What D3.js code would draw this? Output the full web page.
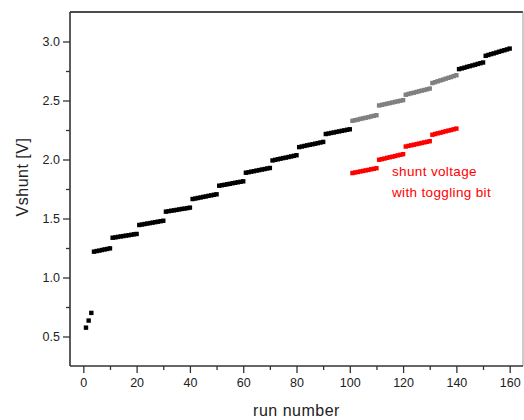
<!DOCTYPE html>
<html>
<head>
<meta charset="utf-8">
<script src="https://cdn.jsdelivr.net/npm/d3@7"></script>
<style>
  html, body { margin: 0; padding: 0; background: #fff; }
  svg { display: block; }
  text { font-family: "Liberation Sans", Arial, sans-serif; }
</style>
</head>
<body>
<svg id="chart" width="524" height="420"></svg>
<script>
// ---- data ----
const blackStarts = [1, 4, 11, 21, 31, 41, 51, 61, 71, 81, 91, 141, 151];
const blackValues = [
  [0.575, 0.635, 0.700],
  [1.219, 1.224, 1.228, 1.233, 1.238, 1.242, 1.247],
  [1.337, 1.340, 1.344, 1.348, 1.351, 1.355, 1.358, 1.362, 1.366, 1.369],
  [1.445, 1.449, 1.453, 1.457, 1.461, 1.465, 1.469, 1.473, 1.477, 1.481],
  [1.558, 1.562, 1.566, 1.569, 1.573, 1.577, 1.581, 1.584, 1.588, 1.592],
  [1.665, 1.669, 1.674, 1.678, 1.683, 1.687, 1.692, 1.696, 1.701, 1.705],
  [1.778, 1.782, 1.786, 1.790, 1.794, 1.799, 1.803, 1.807, 1.811, 1.815],
  [1.888, 1.892, 1.897, 1.901, 1.906, 1.910, 1.915, 1.919, 1.924, 1.928],
  [1.992, 1.997, 2.002, 2.007, 2.012, 2.016, 2.021, 2.026, 2.031, 2.036],
  [2.105, 2.110, 2.115, 2.120, 2.125, 2.129, 2.134, 2.139, 2.144, 2.149],
  [2.216, 2.220, 2.225, 2.229, 2.234, 2.238, 2.243, 2.247, 2.252, 2.256],
  [2.766, 2.772, 2.778, 2.785, 2.791, 2.797, 2.803, 2.810, 2.816, 2.822],
  [2.879, 2.886, 2.893, 2.899, 2.906, 2.913, 2.920, 2.926, 2.933, 2.940]
];
const grayStarts = [101, 111, 121, 131];
const grayValues = [
  [2.328, 2.333, 2.338, 2.344, 2.349, 2.354, 2.359, 2.365, 2.370, 2.375],
  [2.458, 2.463, 2.468, 2.473, 2.478, 2.483, 2.488, 2.493, 2.498, 2.503],
  [2.549, 2.555, 2.561, 2.566, 2.572, 2.578, 2.584, 2.589, 2.595, 2.601],
  [2.648, 2.655, 2.663, 2.670, 2.677, 2.685, 2.692, 2.699, 2.707, 2.714]
];
const redStarts = [101, 111, 121, 131];
const redValues = [
  [1.885, 1.890, 1.894, 1.899, 1.903, 1.908, 1.912, 1.917, 1.921, 1.926],
  [1.998, 2.003, 2.008, 2.014, 2.019, 2.024, 2.029, 2.035, 2.040, 2.045],
  [2.110, 2.115, 2.120, 2.125, 2.130, 2.135, 2.140, 2.145, 2.150, 2.155],
  [2.210, 2.216, 2.222, 2.227, 2.233, 2.239, 2.245, 2.250, 2.256, 2.262]
];
const xTicks = [0, 20, 40, 60, 80, 100, 120, 140, 160];
const xMinorTicks = [10, 30, 50, 70, 90, 110, 130, 150];
const yTicks = [0.5, 1.0, 1.5, 2.0, 2.5, 3.0];
const yMinorTicks = [0.75, 1.25, 1.75, 2.25, 2.75];
const annotation = ["shunt voltage", "with toggling bit"];
const xTitle = "run number";
const yTitle = "Vshunt [V]";

// ---- layout ----
const L = 70, R = 523, T = 12, B = 366;
const svg = d3.select("#chart");
const x = d3.scaleLinear().domain([-5, 165]).range([L, R]);
const y = d3.scaleLinear().domain([0.25, 3.25]).range([B, T]);

function toPoints(starts, values) {
  const pts = [];
  starts.forEach((s, k) => values[k].forEach((v, i) => pts.push({ run: s + i, v })));
  return pts;
}

const axisColor = "#333";

// frame (top & right)
svg.append("line").attr("x1", L).attr("x2", R).attr("y1", T).attr("y2", T)
  .attr("stroke", "#111").attr("stroke-width", 1.3);
svg.append("line").attr("x1", R).attr("x2", R).attr("y1", T).attr("y2", B)
  .attr("stroke", "#999").attr("stroke-width", 1);

// x axis
const gx = svg.append("g").attr("transform", `translate(0,${B})`)
  .call(d3.axisBottom(x).tickValues(xTicks).tickSize(7).tickPadding(5).tickFormat(d3.format("d")));
gx.append("g").call(d3.axisBottom(x).tickValues(xMinorTicks).tickSize(4).tickFormat(""))
  .select(".domain").remove();
gx.select(".domain").attr("d", `M${L},0H${R}`);

// y axis
const gy = svg.append("g").attr("transform", `translate(${L},0)`)
  .call(d3.axisLeft(y).tickValues(yTicks).tickSize(7).tickPadding(3).tickFormat(d3.format(".1f")));
gy.append("g").call(d3.axisLeft(y).tickValues(yMinorTicks).tickSize(4).tickFormat(""))
  .select(".domain").remove();
gy.select(".domain").attr("d", `M0,${T}V${B}`);

[gx, gy].forEach(g => {
  g.selectAll(".domain").attr("stroke", axisColor).attr("stroke-width", 1.6);
  g.selectAll(".tick line").attr("stroke", axisColor).attr("stroke-width", 1.3);
  g.selectAll(".tick text").attr("fill", "#222")
    .style("font-family", '"Liberation Sans", Arial, sans-serif').style("font-size", "12.5px");
});

// titles
svg.append("text").attr("x", (L + R) / 2).attr("y", 416).attr("text-anchor", "middle")
  .style("font-size", "16px").style("letter-spacing", "0.5px").attr("fill", "#222").text(xTitle);
svg.append("text").attr("transform", "translate(28,177) rotate(-90)").attr("text-anchor", "middle")
  .style("font-size", "16px").style("letter-spacing", "0.5px").attr("fill", "#222").text(yTitle);

// data markers
const ms = 4.4;
function drawSeries(pts, color) {
  svg.append("g").selectAll("rect").data(pts).join("rect")
    .attr("x", d => x(d.run) - ms / 2).attr("y", d => y(d.v) - ms / 2)
    .attr("width", ms).attr("height", ms).attr("fill", color);
}
drawSeries(toPoints(blackStarts, blackValues), "#000");
drawSeries(toPoints(grayStarts, grayValues), "#808080");
drawSeries(toPoints(redStarts, redValues), "#ff0000");

// annotation
svg.append("g").selectAll("text").data(annotation).join("text")
  .attr("x", 392).attr("y", (d, i) => 176 + i * 21)
  .style("font-size", "13.5px").style("letter-spacing", "0.35px").attr("fill", "#ff0000").text(d => d);
</script>
</body>
</html>
